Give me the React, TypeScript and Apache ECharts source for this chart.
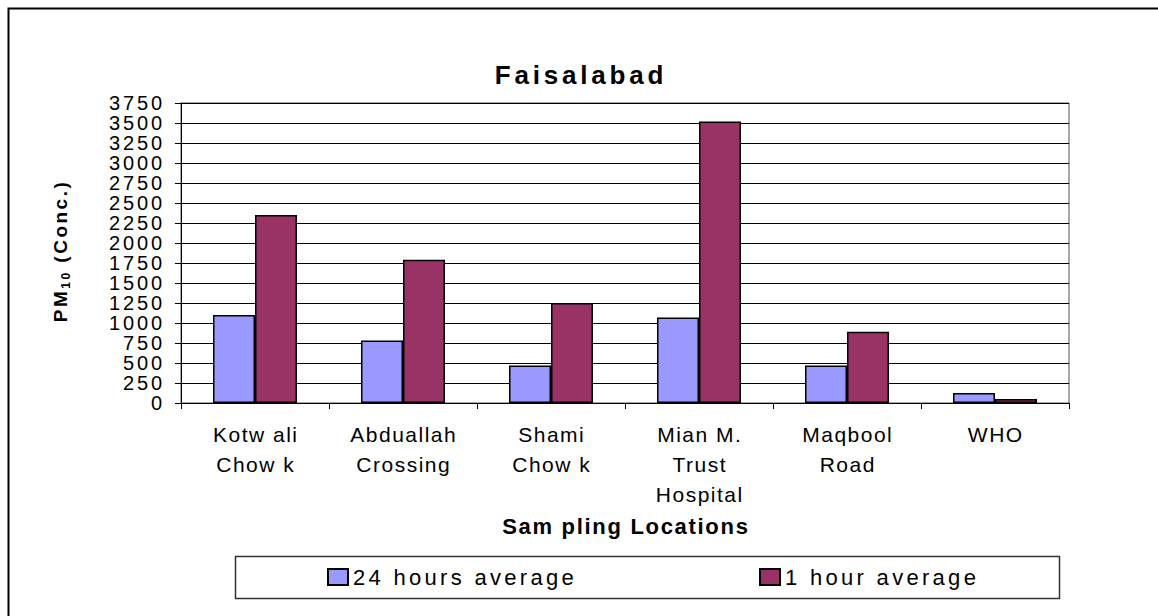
import React, { useEffect, useRef } from 'react';
import * as echarts from 'echarts';

// ---- data ----
const chartTitle = 'Faisalabad';
const categories = [
  'Kotw ali\nChow k',
  'Abduallah\nCrossing',
  'Shami\nChow k',
  'Mian M.\nTrust\nHospital',
  'Maqbool\nRoad',
  'WHO',
];
const seriesNames = ['24 hours average', '1 hour average'];
const avg24h = [1100, 780, 470, 1070, 470, 125];
const avg1h = [2350, 1790, 1250, 3520, 890, 50];
const yMin = 0;
const yMax = 3750;
const yStep = 250;
const xAxisTitle = 'Sam pling Locations';
const yAxisTitleParts = ['PM', '10', ' (Conc.)'];
const seriesColors = ['#9999FF', '#993366'];

const FONT = "'Liberation Sans', Arial, Helvetica, sans-serif";

const labelLines: string[] = categories.flatMap((c) => c.split('\n'));

type Mode = 'center' | 'start' | 'end';

function shiftFor(anchor: string, n: number, ls: number, mode: Mode): number {
  if (mode === 'center') {
    if (anchor === 'middle') return ls / 2;
    if (anchor === 'end') return ((n + 1) * ls) / 2;
    return (-(n - 1) * ls) / 2;
  }
  if (mode === 'end') {
    if (anchor === 'middle') return ls - (n * ls) / 2;
    if (anchor === 'end') return ls;
    return -(n - 1) * ls;
  }
  if (anchor === 'middle') return (n * ls) / 2;
  if (anchor === 'end') return n * ls;
  return 0;
}

function spaceText(t: SVGTextElement, ls: number, dx: number) {
  const x = parseFloat(t.getAttribute('x') || '0') || 0;
  t.style.letterSpacing = ls + 'px';
  t.setAttribute('x', String(x + dx));
  t.setAttribute('data-ls', '1');
}

function applyLetterSpacing(root: HTMLElement) {
  const texts = Array.from(root.querySelectorAll('text')) as SVGTextElement[];
  const yTokens: SVGTextElement[] = [];
  for (const t of texts) {
    if (t.getAttribute('data-ls')) continue;
    const s = t.textContent || '';
    if (yAxisTitleParts.includes(s)) {
      yTokens.push(t);
      continue;
    }
    let rule: { ls: number; mode: Mode } | null = null;
    if (s === chartTitle) rule = { ls: 3.8, mode: 'center' };
    else if (/^\d+$/.test(s)) rule = { ls: 2.8, mode: 'end' };
    else if (s === xAxisTitle) rule = { ls: 1.7, mode: 'center' };
    else if (seriesNames.includes(s)) rule = { ls: 3.3, mode: 'start' };
    else if (labelLines.includes(s)) rule = { ls: 1.5, mode: 'center' };
    if (!rule) continue;
    const n = Array.from(s).length;
    const anchor = t.getAttribute('text-anchor') || 'start';
    spaceText(t, rule.ls, shiftFor(anchor, n, rule.ls, rule.mode));
  }
  if (yTokens.length === yAxisTitleParts.length) {
    const ls = 2.5;
    const ordered = yAxisTitleParts.map((p) => yTokens.find((t) => (t.textContent || '') === p)!);
    const counts = yAxisTitleParts.map((p) => Array.from(p).length);
    const E = counts.reduce((a, b) => a + b, 0) * ls;
    let cum = 0;
    ordered.forEach((t, i) => {
      const anchor = t.getAttribute('text-anchor') || 'start';
      const dx = -E / 2 + cum + (anchor === 'middle' ? (counts[i] * ls) / 2 : 0);
      spaceText(t, ls, dx);
      cum += counts[i] * ls;
    });
  }
}

export default function App() {
  const ref = useRef<HTMLDivElement>(null);

  useEffect(() => {
    document.body.style.margin = '0';
    if (!ref.current) return;
    const chart = echarts.init(ref.current, null, { renderer: 'svg' });

    const option: any = {
      animation: false,
      backgroundColor: '#ffffff',
      title: {
        text: chartTitle,
        left: 'center',
        top: 62,
        padding: 0,
        textStyle: { fontFamily: FONT, fontSize: 26, fontWeight: 'bold', color: '#000', lineHeight: 26 },
      },
      grid: {
        left: 181,
        right: 89,
        top: 103,
        bottom: 213,
        show: true,
        borderColor: '#555',
        borderWidth: 1,
        backgroundColor: 'transparent',
      },
      legend: [
        {
          data: [seriesNames[0]],
          left: 327,
          top: 566,
          padding: 0,
          icon: 'rect',
          itemWidth: 20,
          itemHeight: 16,
          selectedMode: false,
          textStyle: { fontFamily: FONT, fontSize: 22, color: '#000', lineHeight: 22 },
        },
        {
          data: [seriesNames[1]],
          left: 759,
          top: 566,
          padding: 0,
          icon: 'rect',
          itemWidth: 20,
          itemHeight: 16,
          selectedMode: false,
          textStyle: { fontFamily: FONT, fontSize: 22, color: '#000', lineHeight: 22 },
        },
      ],
      xAxis: {
        type: 'category',
        data: categories,
        axisLine: { show: true, lineStyle: { color: '#000', width: 1 } },
        axisTick: { show: true, interval: 0, length: 6, lineStyle: { color: '#000' } },
        axisLabel: {
          interval: 0,
          margin: 16,
          fontFamily: FONT,
          fontSize: 21,
          lineHeight: 30,
          color: '#000',
        },
        name: xAxisTitle,
        nameLocation: 'middle',
        nameGap: 112,
        nameTextStyle: { fontFamily: FONT, fontSize: 22, fontWeight: 'bold', color: '#000', lineHeight: 22 },
      },
      yAxis: {
        type: 'value',
        min: yMin,
        max: yMax,
        interval: yStep,
        axisLine: { show: true, lineStyle: { color: '#000', width: 1 } },
        axisTick: { show: true, length: 6, lineStyle: { color: '#000' } },
        axisLabel: {
          margin: 19,
          fontFamily: FONT,
          fontSize: 20,
          color: '#000',
          formatter: (v: number) => String(v),
        },
        splitLine: { show: true, lineStyle: { color: '#000', width: 1 } },
      },
      graphic: [
        {
          type: 'rect',
          silent: true,
          z: 100,
          shape: { x: 8.5, y: 8.5, width: 1300, height: 800 },
          style: { fill: 'none', stroke: '#000', lineWidth: 2 },
        },
        {
          type: 'rect',
          silent: true,
          shape: { x: 235.5, y: 556.5, width: 824, height: 42 },
          style: { fill: 'none', stroke: '#333', lineWidth: 1.5 },
        },
        {
          type: 'text',
          silent: true,
          x: 60.5,
          y: 251,
          rotation: Math.PI / 2,
          style: {
            text: `{a|${yAxisTitleParts[0]}}{b|${yAxisTitleParts[1]}}{a|${yAxisTitleParts[2]}}`,
            align: 'center',
            verticalAlign: 'middle',
            fill: '#000',
            rich: {
              a: { fontFamily: FONT, fontSize: 19, fontWeight: 'bold', lineHeight: 22, fill: '#000' },
              b: {
                fontFamily: FONT,
                fontSize: 12,
                fontWeight: 'bold',
                lineHeight: 12,
                verticalAlign: 'bottom',
                fill: '#000',
              },
            },
          },
        },
      ],
      series: [
        {
          name: seriesNames[0],
          type: 'bar',
          data: avg24h,
          barWidth: 42,
          barGap: '0%',
          itemStyle: { color: seriesColors[0], borderColor: '#000', borderWidth: 1.5 },
          emphasis: { disabled: true },
        },
        {
          name: seriesNames[1],
          type: 'bar',
          data: avg1h,
          barWidth: 42,
          barGap: '0%',
          itemStyle: { color: seriesColors[1], borderColor: '#000', borderWidth: 1.5 },
          emphasis: { disabled: true },
        },
      ],
    };

    chart.setOption(option);
    const el = ref.current;
    applyLetterSpacing(el);
    const onFinished = () => applyLetterSpacing(el);
    chart.on('finished', onFinished);
    const timer = window.setTimeout(() => applyLetterSpacing(el), 50);

    return () => {
      window.clearTimeout(timer);
      chart.off('finished', onFinished);
      chart.dispose();
    };
  }, []);

  return <div ref={ref} style={{ width: 1158, height: 616 }} />;
}
